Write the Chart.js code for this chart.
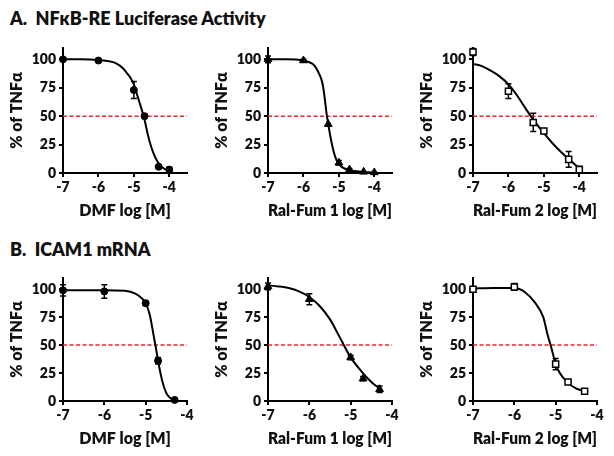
<!DOCTYPE html>
<html>
<head>
<meta charset="utf-8">
<script src="https://cdn.jsdelivr.net/npm/chart.js@4.4.0/dist/chart.umd.min.js"></script>
<style>
    body { margin: 0; background: #fff; }
    #lienzo { position: relative; width: 614px; height: 456px; font-family: Lato, "Liberation Sans", sans-serif; }
    .titulo { position: absolute; left: 10px; font-weight: 800; font-size: 18px; line-height: 20px; color: #111; }
    canvas { position: absolute; }
</style>
</head>
<body>
<div id="lienzo">
    <div class="titulo" style="top:8px">A.&nbsp; NFκB-RE Luciferase Activity</div>
    <div class="titulo" style="top:239px">B.&nbsp; ICAM1 mRNA</div>
    <canvas id="g1" width="204" height="195" style="left:0;top:30px"></canvas>
    <canvas id="g2" width="204" height="195" style="left:205px;top:30px"></canvas>
    <canvas id="g3" width="204" height="195" style="left:410px;top:30px"></canvas>
    <canvas id="g4" width="204" height="195" style="left:0;top:258px"></canvas>
    <canvas id="g5" width="204" height="195" style="left:205px;top:258px"></canvas>
    <canvas id="g6" width="204" height="195" style="left:410px;top:258px"></canvas>
</div>
<script>
// ticks
const ticksY = [0, 25, 50, 75, 100];
const ticksX = [-7, -6, -5, -4];
const lineaMitad = 50;

// A. NFkB-RE, DMF
const dosisA1 = [-7, -6, -5, -4.7, -4.3, -4];
const mediaA1 = [100, 99, 73, 50, 5.5, 3];
const errorA1 = [0, 1, 7.5, 0, 0, 2];
const ajusteXA1 = [-7, -6.5, -6, -5.75, -5.5, -5.3, -5.2, -5.1, -5, -4.9, -4.8, -4.7, -4.6, -4.5, -4.4, -4.3, -4.2, -4.1, -4];
const ajusteYA1 = [100, 100, 99.4, 98.5, 96.5, 92, 88, 84, 78, 68, 58, 47, 33, 22, 14, 8.5, 5, 3, 2.2];

// A. NFkB-RE, Ral-Fum 1
const dosisA2 = [-7, -6, -5.3, -5, -4.7, -4.3, -4];
const mediaA2 = [100, 99, 43, 9, 3, 1, 0.5];
const errorA2 = [3, 1, 0, 2, 1, 0, 0];
const ajusteXA2 = [-7, -6.5, -6, -5.8, -5.7, -5.6, -5.5, -5.45, -5.4, -5.35, -5.3, -5.2, -5.1, -5, -4.9, -4.75, -4.5, -4];
const ajusteYA2 = [100, 100, 99, 97, 95, 90, 83, 77, 66, 53, 43, 26, 14, 8, 5, 3, 1.5, 0.5];

// A. NFkB-RE, Ral-Fum 2
const dosisA3 = [-7, -6, -5.3, -5, -4.3, -4];
const mediaA3 = [106.5, 72, 44.5, 37, 12, 3];
const errorA3 = [3, 6.5, 8, 1, 7, 3];
const ajusteXA3 = [-7, -6.75, -6.5, -6.25, -6, -5.75, -5.5, -5.25, -5, -4.75, -4.5, -4.25, -4];
const ajusteYA3 = [96, 94, 90, 85, 78, 68, 56, 45, 35, 26, 18, 11, 4];

// B. ICAM1, DMF
const dosisB1 = [-7, -6, -5, -4.7, -4.3];
const mediaB1 = [99, 98, 87.5, 36, 1];
const errorB1 = [5, 6, 2, 3, 0];
const ajusteXB1 = [-7, -6, -5.5, -5.25, -5.1, -5, -4.9, -4.8, -4.75, -4.7, -4.6, -4.5, -4.4, -4.3];
const ajusteYB1 = [99, 99, 98.5, 96, 92, 87.5, 77, 57, 47, 36, 18, 7, 2.5, 1];

// B. ICAM1, Ral-Fum 1
const dosisB2 = [-7, -6, -5, -4.7, -4.3];
const mediaB2 = [102.5, 91, 39, 20, 10.5];
const errorB2 = [3, 5, 2, 2, 3];
const ajusteXB2 = [-7, -6.75, -6.5, -6.25, -6, -5.75, -5.5, -5.25, -5, -4.75, -4.5, -4.3];
const ajusteYB2 = [103.5, 102.5, 101, 98, 93, 85, 73, 56, 39, 27, 17, 11];

// B. ICAM1, Ral-Fum 2
const dosisB3 = [-7, -6, -5, -4.7, -4.3];
const mediaB3 = [100, 102, 33, 17, 8.7];
const errorB3 = [1, 3, 5, 1, 1];
const ajusteXB3 = [-7, -6.5, -6, -5.75, -5.5, -5.3, -5.2, -5.1, -5, -4.9, -4.75, -4.5, -4.3];
const ajusteYB3 = [100.6, 101, 101, 97.5, 88, 75, 60, 47, 33, 25, 18, 11, 9];

const barrasError = {
    id: 'barrasError',
    beforeDatasetsDraw(chart) {
        const ctx = chart.ctx;
        const escalaY = chart.scales.y;
        chart.data.datasets.forEach((ds, i) => {
            if (!ds.errores) return;
            const meta = chart.getDatasetMeta(i);
            ctx.save();
            ctx.strokeStyle = '#000';
            ctx.lineWidth = 1.5;
            meta.data.forEach((pt, j) => {
                const e = ds.errores[j];
                if (!e) return;
                const yArriba = escalaY.getPixelForValue(ds.data[j].y + e);
                const yAbajo = escalaY.getPixelForValue(ds.data[j].y - e);
                ctx.beginPath();
                ctx.moveTo(pt.x, yArriba);
                ctx.lineTo(pt.x, yAbajo);
                ctx.moveTo(pt.x - 3, yArriba);
                ctx.lineTo(pt.x + 3, yArriba);
                ctx.moveTo(pt.x - 3, yAbajo);
                ctx.lineTo(pt.x + 3, yAbajo);
                ctx.stroke();
            });
            ctx.restore();
        });
    }
};

const estilosPunto = {
    circulo: { pointStyle: 'circle', pointRadius: 3.5, pointBackgroundColor: '#000', pointBorderColor: '#000', pointBorderWidth: 1 },
    triangulo: { pointStyle: 'triangle', pointRadius: 4.5, pointBackgroundColor: '#000', pointBorderColor: '#000', pointBorderWidth: 1 },
    cuadrado: { pointStyle: 'rect', pointRadius: 4.3, pointBackgroundColor: '#fff', pointBorderColor: '#000', pointBorderWidth: 1.5 }
};

function crearPanel(canvasId, xMax, tituloX, dosis, media, errores, ajusteX, ajusteY, estilo, rellenoArriba) {
    const ctx = document.getElementById(canvasId);
    if (!ctx) {
        console.log("No se encontró el contenedor " + canvasId);
        return;
    }
    const fuenteTicks = { family: 'Lato, "Liberation Sans", sans-serif', size: 14, weight: '800' };
    const fuenteTitulo = { family: 'Lato, "Liberation Sans", sans-serif', size: 16, weight: '800' };

    new Chart(ctx, {
        type: 'scatter',
        data: {
            datasets: [
                Object.assign({
                    data: dosis.map((d, i) => ({ x: d, y: media[i] })),
                    errores: errores,
                    showLine: false,
                    clip: false
                }, estilosPunto[estilo]),
                {
                    data: ajusteX.map((d, i) => ({ x: d, y: ajusteY[i] })),
                    showLine: true,
                    borderColor: '#000',
                    borderWidth: 2,
                    pointRadius: 0,
                    cubicInterpolationMode: 'monotone'
                },
                {
                    data: [{ x: -7, y: lineaMitad }, { x: xMax, y: lineaMitad }],
                    showLine: true,
                    borderColor: '#e8232a',
                    borderWidth: 1.5,
                    borderDash: [4, 2.5],
                    pointRadius: 0
                }
            ]
        },
        options: {
            responsive: false,
            animation: false,
            devicePixelRatio: 1,
            layout: { padding: { left: 3, right: 17, top: rellenoArriba, bottom: 0 } },
            plugins: {
                legend: { display: false },
                tooltip: { enabled: false }
            },
            scales: {
                x: {
                    type: 'linear',
                    min: -7,
                    max: xMax,
                    afterBuildTicks: s => { s.ticks = ticksX.map(v => ({ value: v })); },
                    afterFit: s => { s.height = 52; },
                    ticks: { font: fuenteTicks, color: '#111', padding: 2 },
                    grid: { drawOnChartArea: false, color: '#000', lineWidth: 2, tickLength: 4 },
                    border: { color: '#000', width: 2 },
                    title: { display: true, text: tituloX, font: fuenteTitulo, color: '#111', padding: { top: 2, bottom: 5 } }
                },
                y: {
                    min: 0,
                    max: 110,
                    afterBuildTicks: s => { s.ticks = ticksY.map(v => ({ value: v })); },
                    afterFit: s => { s.width = 60; },
                    ticks: { font: fuenteTicks, color: '#111', padding: 3 },
                    grid: { drawOnChartArea: false, color: '#000', lineWidth: 2, tickLength: 4 },
                    border: { color: '#000', width: 2 },
                    title: { display: true, text: '% of TNFα', font: fuenteTitulo, color: '#111', padding: { top: 4, bottom: 2 } }
                }
            }
        },
        plugins: [barrasError]
    });
}

crearPanel('g1', -3.5, 'DMF log [M]', dosisA1, mediaA1, errorA1, ajusteXA1, ajusteYA1, 'circulo', 18);
crearPanel('g2', -3.5, 'Ral-Fum 1 log [M]', dosisA2, mediaA2, errorA2, ajusteXA2, ajusteYA2, 'triangulo', 18);
crearPanel('g3', -3.5, 'Ral-Fum 2 log [M]', dosisA3, mediaA3, errorA3, ajusteXA3, ajusteYA3, 'cuadrado', 18);
crearPanel('g4', -4, 'DMF log [M]', dosisB1, mediaB1, errorB1, ajusteXB1, ajusteYB1, 'circulo', 20);
crearPanel('g5', -4, 'Ral-Fum 1 log [M]', dosisB2, mediaB2, errorB2, ajusteXB2, ajusteYB2, 'triangulo', 20);
crearPanel('g6', -4, 'Ral-Fum 2 log [M]', dosisB3, mediaB3, errorB3, ajusteXB3, ajusteYB3, 'cuadrado', 20);
</script>
</body>
</html>
